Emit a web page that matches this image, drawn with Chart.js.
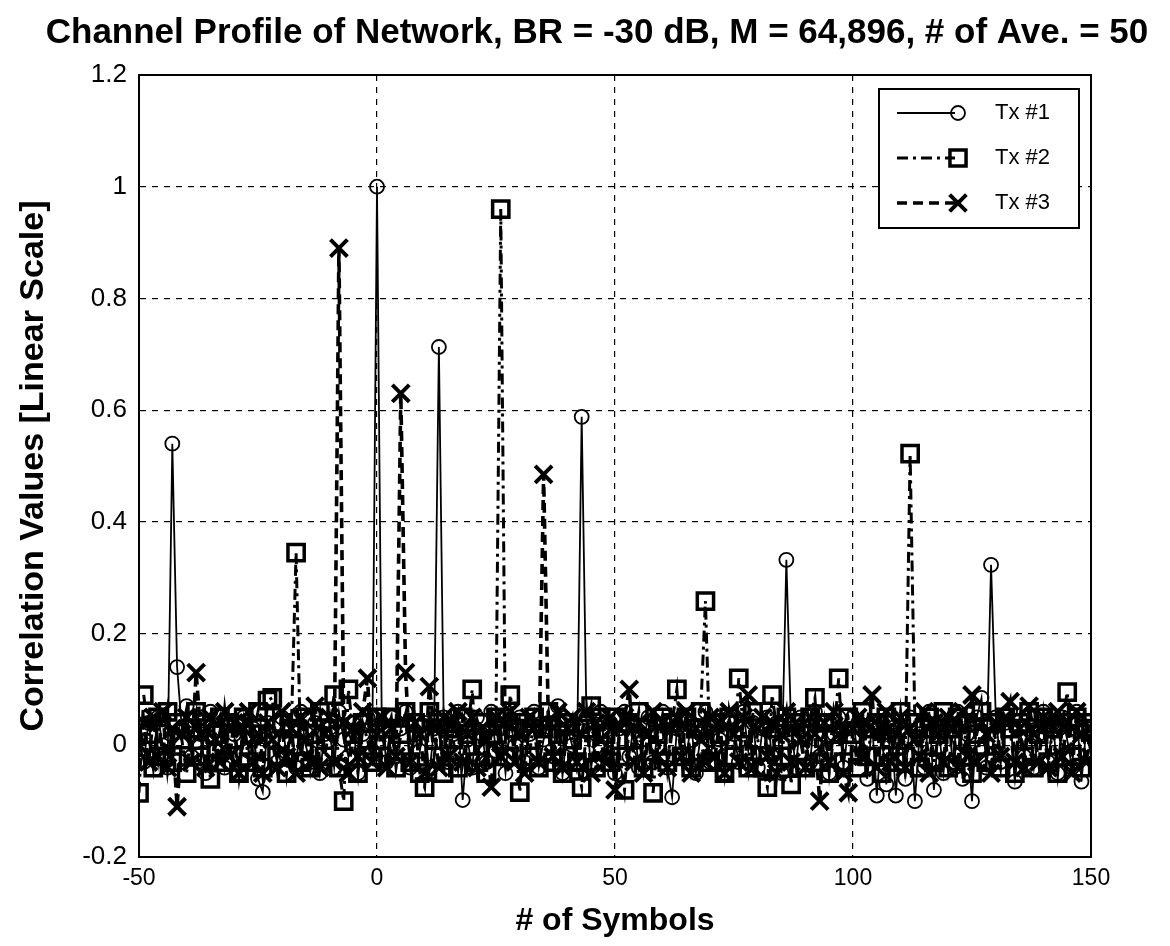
<!DOCTYPE html>
<html>
<head>
<meta charset="utf-8">
<script src="https://cdn.jsdelivr.net/npm/chart.js@4.4.1/dist/chart.umd.min.js"></script>
<style>
  html, body { margin: 0; padding: 0; background: #fff; }
  #wrap { width: 1170px; height: 946px; }
</style>
</head>
<body>
<div id="wrap"><canvas id="myChart" width="1170" height="946"></canvas></div>
<script>
// symbol index runs -50 .. 150
var symbolStart = -50;

var tx1 = [
  0.01, -0.03, 0.04, -0.02, 0.05, 0.00, -0.04, 0.54, 0.14, 0.03,
  0.07, -0.02, 0.05, 0.02, -0.05, 0.06, -0.01, 0.03, -0.04, 0.04,
  0.02, -0.05, 0.05, -0.01, 0.03, -0.06, -0.084, 0.04, 0.01, -0.03,
  0.05, -0.02, 0.03, -0.04, 0.06, 0.00, -0.03, 0.04, -0.05, 0.02,
  0.03, -0.04, 0.06, 0.01, -0.02, 0.04, -0.05, 0.02, 0.05, -0.01,
  1.00, 0.04, -0.03, 0.05, -0.02, 0.03, 0.06, -0.04, 0.02, -0.01,
  0.04, -0.05, 0.03, 0.713, 0.05, -0.03, 0.02, 0.06, -0.098, 0.01,
  -0.04, 0.05, 0.02, -0.03, 0.06, -0.01, 0.03, -0.05, 0.04, 0.00,
  0.05, -0.03, 0.02, 0.06, -0.04, 0.01, 0.04, -0.02, 0.07, -0.05,
  0.03, 0.00, -0.03, 0.588, 0.05, -0.04, 0.02, 0.06, -0.02, 0.04,
  -0.05, 0.03, 0.06, -0.02, 0.04, -0.04, 0.01, 0.05, -0.03, 0.02,
  0.06, -0.04, -0.093, 0.03, 0.05, -0.02, 0.04, -0.05, 0.02, 0.06,
  -0.03, 0.04, 0.01, -0.05, 0.05, 0.02, -0.03, 0.06, -0.01, 0.04,
  -0.04, 0.03, 0.05, -0.02, 0.04, -0.05, 0.332, 0.03, -0.04, 0.05,
  0.01, -0.03, 0.06, -0.02, 0.04, -0.05, 0.02, 0.05, -0.04, 0.03,
  0.05, -0.02, 0.03, -0.06, 0.04, -0.09, 0.02, -0.07, 0.04, -0.09,
  0.03, -0.06, 0.05, -0.10, 0.02, -0.04, 0.06, -0.08, 0.03, -0.05,
  0.04, -0.03, 0.06, -0.06, 0.02, -0.10, 0.05, 0.085, -0.04, 0.323,
  0.05, -0.03, 0.04, 0.06, -0.065, 0.03, -0.02, 0.05, -0.04, 0.02,
  0.06, -0.03, 0.04, -0.05, 0.05, 0.01, -0.04, 0.06, -0.065, 0.03,
  -0.02
];

var tx2 = [
  -0.085, 0.09, 0.02, -0.04, 0.05, -0.02, 0.06, -0.03, 0.04, 0.01,
  -0.05, 0.03, 0.06, -0.02, 0.04, -0.06, 0.02, 0.05, -0.03, 0.04,
  0.01, -0.05, 0.05, -0.03, 0.02, 0.06, -0.04, 0.08, 0.085, -0.02,
  0.04, -0.05, 0.03, 0.345, -0.03, 0.05, -0.04, 0.02, 0.06, -0.02,
  0.03, 0.09, -0.04, -0.10, 0.10, 0.02, -0.05, 0.04, 0.01, -0.03,
  0.05, -0.02, 0.03, 0.05, -0.04, 0.02, 0.06, -0.03, 0.04, -0.05,
  -0.075, 0.06, -0.02, 0.04, -0.05, 0.03, 0.01, -0.04, 0.05, 0.02,
  0.10, -0.03, 0.04, -0.05, 0.02, 0.05, 0.96, -0.02, 0.09, 0.03,
  -0.084, 0.04, -0.02, 0.05, -0.04, 0.03, 0.06, -0.03, 0.02, -0.05,
  0.04, 0.01, -0.03, -0.075, 0.03, 0.07, -0.04, 0.05, 0.02, -0.03,
  0.05, -0.02, -0.08, 0.04, 0.01, 0.06, -0.04, 0.03, -0.085, 0.02,
  0.05, -0.03, 0.04, 0.10, -0.02, 0.05, -0.04, 0.03, 0.06, 0.258,
  -0.03, 0.04, 0.02, -0.05, 0.05, -0.02, 0.12, 0.03, -0.04, 0.06,
  0.01, -0.04, -0.075, 0.09, 0.03, -0.02, 0.05, -0.07, 0.04, 0.02,
  -0.04, 0.05, 0.085, -0.03, 0.04, -0.05, 0.02, 0.12, -0.03, 0.05,
  0.02, -0.04, 0.06, -0.02, 0.03, 0.04, -0.05, 0.05, 0.01, -0.03,
  0.06, -0.02, 0.522, 0.04, -0.04, 0.03, 0.05, -0.03, 0.02, 0.06,
  -0.04, 0.03, 0.05, -0.02, 0.04, -0.05, 0.02, 0.06, -0.03, 0.04,
  0.01, -0.04, 0.05, 0.03, -0.05, 0.04, -0.02, 0.06, -0.04, 0.02,
  0.05, -0.03, 0.03, -0.05, 0.04, 0.095, -0.02, 0.05, -0.04, 0.03,
  0.04
];

var tx3 = [
  0.00, 0.04, -0.03, 0.05, -0.02, 0.06, -0.04, 0.03, -0.11, 0.02,
  0.05, -0.03, 0.13, 0.02, -0.04, 0.05, 0.01, -0.03, 0.06, -0.02,
  0.04, -0.05, 0.03, 0.06, -0.03, 0.02, -0.05, 0.04, 0.01, -0.04,
  0.06, -0.02, 0.03, -0.05, 0.05, 0.01, -0.03, 0.07, -0.04, 0.02,
  0.05, -0.03, 0.89, 0.04, -0.05, 0.03, -0.02, 0.06, 0.12, -0.03,
  0.02, 0.05, -0.04, 0.03, -0.02, 0.63, 0.13, -0.03, 0.04, 0.02,
  -0.05, 0.105, 0.03, -0.04, 0.05, -0.02, 0.04, 0.06, -0.03, 0.02,
  0.05, -0.04, 0.03, 0.01, -0.075, 0.05, -0.02, 0.04, 0.06, -0.03,
  0.02, -0.05, 0.05, 0.03, -0.03, 0.485, 0.04, -0.02, 0.06, -0.04,
  0.03, 0.05, -0.03, 0.02, 0.06, -0.05, 0.04, 0.01, -0.03, 0.05,
  -0.08, 0.03, 0.05, 0.10, -0.03, 0.04, -0.05, 0.02, 0.06, -0.02,
  0.04, -0.04, 0.03, 0.05, -0.02, 0.06, -0.05, 0.03, 0.01, -0.03,
  0.05, -0.02, 0.04, -0.05, 0.06, 0.02, -0.03, 0.05, 0.09, -0.04,
  0.03, 0.05, -0.02, 0.04, -0.05, 0.02, 0.06, -0.03, 0.04, 0.01,
  -0.04, 0.05, 0.02, -0.10, 0.04, -0.03, 0.06, 0.02, -0.05, -0.085,
  0.03, 0.05, -0.02, 0.04, 0.09, -0.04, 0.03, 0.06, -0.03, 0.02,
  0.05, -0.04, 0.03, 0.01, -0.02, 0.06, -0.05, 0.04, 0.02, -0.03,
  0.05, 0.03, -0.04, 0.06, -0.02, 0.09, -0.03, 0.04, 0.02, -0.05,
  0.04, -0.02, 0.05, 0.078, -0.03, 0.03, -0.04, 0.07, 0.02, -0.03,
  0.05, -0.04, 0.03, 0.06, -0.02, 0.04, -0.05, 0.06, 0.02, -0.03,
  0.03
];

var seriesNames = ['Tx #1', 'Tx #2', 'Tx #3'];
var xTicks = [-50, 0, 50, 100, 150];
var yTicks = [-0.2, 0, 0.2, 0.4, 0.6, 0.8, 1, 1.2];
var chartTitle = 'Channel Profile of Network, BR = -30 dB, M = 64,896, # of Ave. = 50';

function toPoints(arr) {
  return arr.map(function (v, i) { return { x: symbolStart + i, y: v }; });
}

var styles = [
  { dash: [], width: 1.8, point: 'circle', radius: 7, pw: 1.8 },
  { dash: [11, 5, 3, 5], width: 3, point: 'rect', radius: 11.5, pw: 3.5 },
  { dash: [10, 6], width: 3.6, point: 'crossRot', radius: 12, pw: 4 }
];

// title, frame round the plot, legend box inside the top-right corner
var framePlugin = {
  id: 'frame',
  afterDraw: function (chart) {
    var c = chart.ctx, a = chart.chartArea;
    c.save();
    c.fillStyle = '#000';
    c.font = 'bold 35px "Liberation Sans", Arial';
    c.textAlign = 'center';
    c.textBaseline = 'middle';
    c.fillText(chartTitle, 597, 33);
    c.textAlign = 'left';

    c.strokeStyle = '#000';
    c.lineWidth = 2;
    c.setLineDash([]);
    c.strokeRect(a.left, a.top, a.right - a.left, a.bottom - a.top);

    var bx = 879, by = 89, bw = 200, bh = 139;
    c.fillStyle = '#fff';
    c.fillRect(bx, by, bw, bh);
    c.lineWidth = 2;
    c.strokeRect(bx, by, bw, bh);
    c.font = '22px "Liberation Sans", Arial';
    for (var i = 0; i < 3; i++) {
      var s = styles[i], y = by + 24 + i * 45;
      c.strokeStyle = '#000';
      c.lineWidth = s.width;
      c.setLineDash(s.dash);
      c.beginPath();
      c.moveTo(897, y);
      c.lineTo(955, y);
      c.stroke();
      c.setLineDash([]);
      c.lineWidth = s.pw;
      var mx = 958, r = s.radius * 0.7;
      c.beginPath();
      if (s.point === 'circle') {
        c.arc(mx, y, s.radius, 0, Math.PI * 2);
      } else if (s.point === 'rect') {
        c.rect(mx - r, y - r, 2 * r, 2 * r);
      } else {
        c.moveTo(mx - r, y - r); c.lineTo(mx + r, y + r);
        c.moveTo(mx + r, y - r); c.lineTo(mx - r, y + r);
      }
      c.stroke();
      c.fillStyle = '#000';
      c.fillText(seriesNames[i], 995, y);
    }
    c.restore();
  }
};

var ctx = document.getElementById('myChart').getContext('2d');
var data = [tx1, tx2, tx3];

var myChart = new Chart(ctx, {
  type: 'line',
  data: {
    datasets: data.map(function (arr, i) {
      var s = styles[i];
      return {
        label: seriesNames[i],
        data: toPoints(arr),
        borderColor: '#000',
        backgroundColor: 'rgba(0,0,0,0)',
        borderWidth: s.width,
        borderDash: s.dash,
        pointStyle: s.point,
        pointRadius: s.radius,
        pointBorderWidth: s.pw,
        pointBorderColor: '#000',
        pointBackgroundColor: 'rgba(0,0,0,0)',
        tension: 0,
        order: 3 - i
      };
    })
  },
  options: {
    responsive: false,
    devicePixelRatio: 1,
    animation: false,
    layout: { padding: { left: 0, right: 79, top: 75, bottom: 0 } },
    plugins: {
      legend: { display: false },
      tooltip: { enabled: false },
      title: { display: false }
    },
    scales: {
      x: {
        type: 'linear',
        min: -50,
        max: 150,
        afterBuildTicks: function (s) { s.ticks = xTicks.map(function (v) { return { value: v }; }); },
        afterFit: function (s) { s.height = 946 - 857; },
        grid: { color: '#000', lineWidth: 1.2, drawTicks: false },
        border: { display: true, color: '#000', width: 2, dash: [6, 6] },
        ticks: { color: '#000', padding: 8, maxRotation: 0, font: { family: '"Liberation Sans", Arial', size: 23 } },
        title: {
          display: true, text: '# of Symbols', color: '#000',
          font: { family: '"Liberation Sans", Arial', size: 32, weight: 'bold' },
          padding: { top: 0, bottom: 6 }
        }
      },
      y: {
        min: -0.2,
        max: 1.2,
        afterBuildTicks: function (s) { s.ticks = yTicks.map(function (v) { return { value: v }; }); },
        afterFit: function (s) { s.width = 139; },
        grid: { color: '#000', lineWidth: 1.2, drawTicks: false },
        border: { display: true, color: '#000', width: 2, dash: [6, 6] },
        ticks: {
          color: '#000', padding: 12,
          font: { family: '"Liberation Sans", Arial', size: 26 },
          callback: function (v) { return String(Math.round(v * 10) / 10); }
        },
        title: {
          display: true, text: 'Correlation Values [Linear Scale]', color: '#000',
          font: { family: '"Liberation Sans", Arial', size: 34, weight: 'bold' },
          padding: { top: 13, bottom: 0 }
        }
      }
    }
  },
  plugins: [framePlugin]
});
</script>
</body>
</html>
